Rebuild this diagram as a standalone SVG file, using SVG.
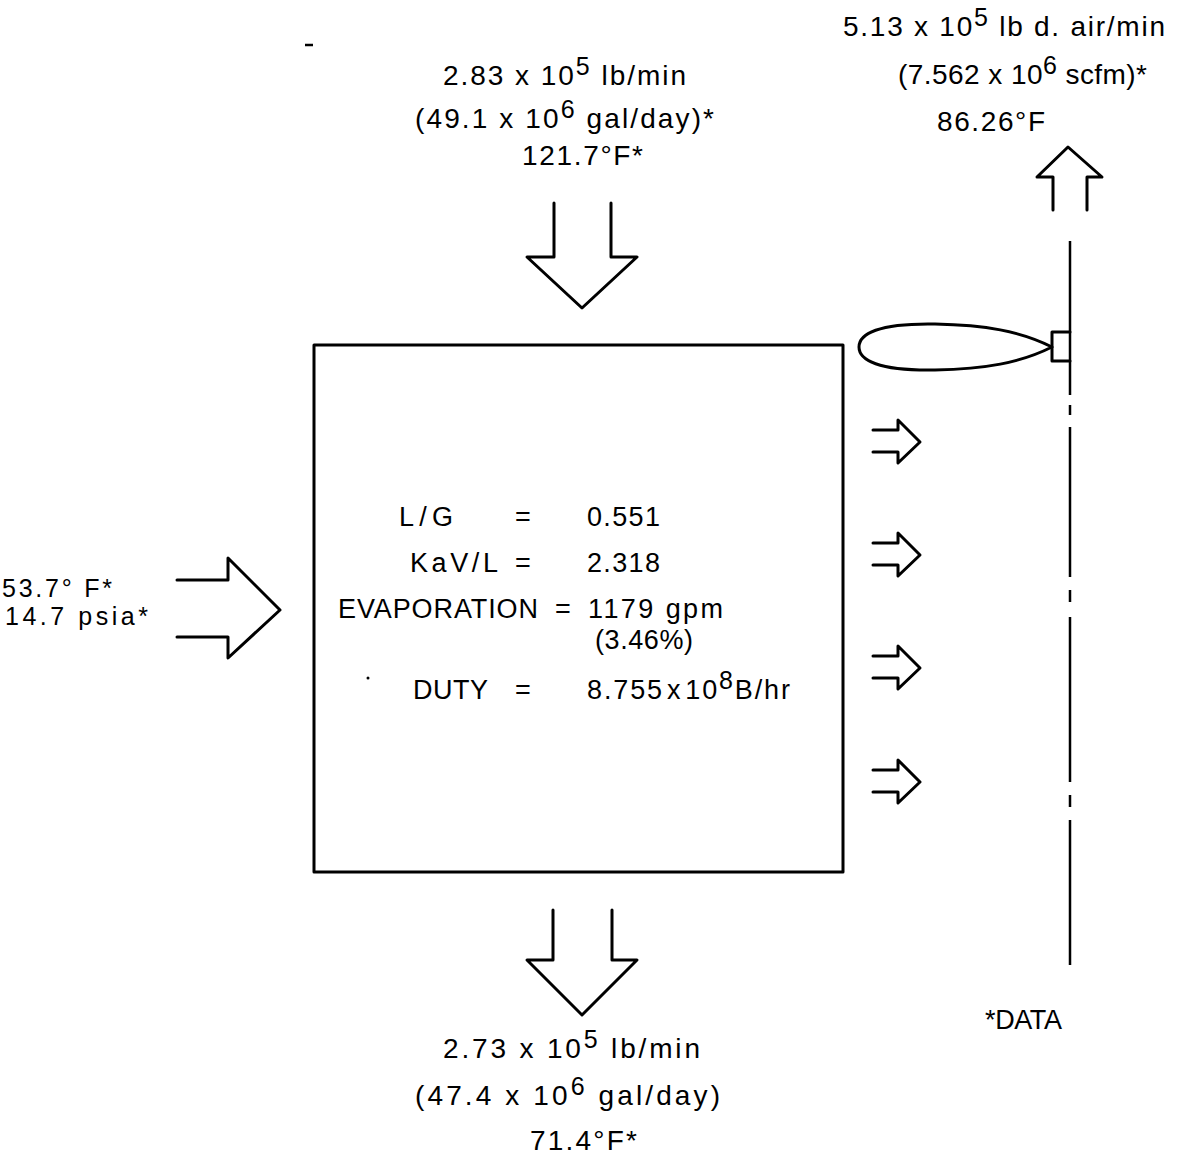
<svg xmlns="http://www.w3.org/2000/svg" width="1179" height="1159" viewBox="0 0 1179 1159">
<style>
.ln{fill:none;stroke:#000;stroke-width:3;stroke-linejoin:round;stroke-linecap:round}
.thin{fill:none;stroke:#000;stroke-width:2.5;stroke-linecap:butt}
text{font-family:"Liberation Sans",Arial,sans-serif;font-size:28px;fill:#000}
.sup{font-size:25px}
.c{font-size:27px}
.s{font-size:25px}
</style>
<rect width="1179" height="1159" fill="#fff"/>
<g id="tower">
<rect x="314" y="345" width="529" height="527" class="ln"/>
<text class="c" x="399" y="526" textLength="54">L/G</text>
<text class="c" x="515" y="526">=</text>
<text class="c" x="587" y="526" textLength="73">0.551</text>
<text class="c" x="410" y="572" textLength="88">KaV/L</text>
<text class="c" x="515" y="572">=</text>
<text class="c" x="587" y="572" textLength="73">2.318</text>
<text class="c" x="338" y="618" textLength="200">EVAPORATION</text>
<text class="c" x="555" y="618">=</text>
<text class="c" x="588" y="618" textLength="135">1179 gpm</text>
<text class="c" x="595" y="649" textLength="98">(3.46%)</text>
<text class="c" x="413" y="699" textLength="75">DUTY</text>
<text class="c" x="515" y="699">=</text>
<text class="c" x="587" y="699" textLength="203">8.755<tspan dx="3">x</tspan><tspan dx="3">10</tspan><tspan class="sup" dy="-10">8</tspan><tspan dy="10">B/hr</tspan></text>
<circle cx="368" cy="678" r="1.5" fill="#000"/>
</g>
<g id="water-in">
<path class="ln" d="M554,203 V257 H527 L582,308 L637,257 H611 V203"/>
<text x="443" y="85" textLength="243">2.83 x 10<tspan class="sup" dy="-10">5</tspan><tspan dy="10"> lb/min</tspan></text>
<text x="415" y="128" textLength="299">(49.1 x 10<tspan class="sup" dy="-10">6</tspan><tspan dy="10"> gal/day)*</tspan></text>
<text x="522" y="165" textLength="121">121.7°F*</text>
</g>
<g id="water-out">
<path class="ln" d="M553,910 V960 H527 L582,1015 L637,960 H612 V910"/>
<text x="443" y="1058" textLength="257">2.73 x 10<tspan class="sup" dy="-10">5</tspan><tspan dy="10"> lb/min</tspan></text>
<text x="415" y="1105" textLength="305">(47.4 x 10<tspan class="sup" dy="-10">6</tspan><tspan dy="10"> gal/day)</tspan></text>
<text x="530" y="1150" textLength="107">71.4°F*</text>
</g>
<g id="air-in">
<path class="ln" d="M177,580 H228 V558 L280,610 L228,658 V637 H177"/>
<text class="s" x="2" y="597" textLength="110">53.7° F*</text>
<text class="s" x="5" y="625" textLength="143">14.7 psia*</text>
</g>
<g id="air-out">
<path class="ln" d="M1053,210 V177 H1037 L1068,147 L1102,177 H1087 V210"/>
<text x="843" y="36" textLength="322">5.13 x 10<tspan class="sup" dy="-10">5</tspan><tspan dy="10"> lb d. air/min</tspan></text>
<text x="898" y="84" textLength="249">(7.562 x 10<tspan class="sup" dy="-10">6</tspan><tspan dy="10"> scfm)*</tspan></text>
<text x="937" y="131" textLength="108">86.26°F</text>
</g>
<g id="fan">
<path class="ln" d="M1052,347 C1020,331 985,325 935,324 C878,323 859,334 859,347 C859,360 878,371 935,370 C985,369 1020,363 1052,347 Z"/>
<path class="ln" d="M1070,332 H1052 V361 H1070"/>
</g>
<g id="connectors">
<path class="thin" d="M1070,241 V395 M1070,405 V415 M1070,427 V577 M1070,590 V602 M1070,617 V782 M1070,795 V807 M1070,820 V965"/>
<path class="ln" d="M873,430 H898 V420 L920,442 L898,463 V452 H873"/>
<path class="ln" d="M873,543 H898 V533 L920,555 L898,576 V565 H873"/>
<path class="ln" d="M873,656 H898 V646 L920,668 L898,689 V678 H873"/>
<path class="ln" d="M873,770 H898 V760 L920,782 L898,803 V792 H873"/>
</g>
<g id="legend">
<text class="c" x="985" y="1029" textLength="77">*DATA</text>
<path class="thin" d="M305,45 H313"/>
</g>
</svg>
